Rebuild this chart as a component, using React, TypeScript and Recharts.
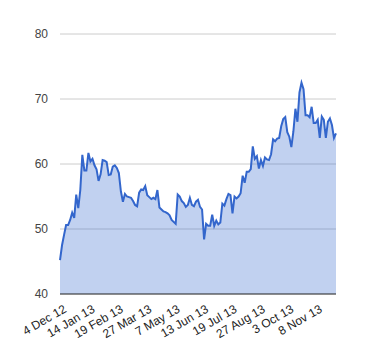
import React from 'react';
import { AreaChart, Area, XAxis, YAxis, CartesianGrid } from 'recharts';

const tickLabels = ['4 Dec 12', '14 Jan 13', '19 Feb 13', '27 Mar 13', '7 May 13', '13 Jun 13', '19 Jul 13', '27 Aug 13', '3 Oct 13', '8 Nov 13'];
const tickStep = 14;
const yTicks = [40, 50, 60, 70, 80];

const prices = [
  45.2, 47.5, 49.1, 50.6, 50.6, 51.4, 52.5, 51.7, 55.3, 53.2,
  56.0, 61.4, 59.0, 59.0, 61.7, 60.4, 60.8, 59.8, 59.2, 57.4,
  58.4, 60.6, 60.5, 60.3, 58.3, 58.4, 59.6, 59.8, 59.4, 58.6,
  55.8, 54.2, 55.4, 55.0, 54.9, 54.8, 54.3, 53.7, 53.5, 55.6,
  56.1, 56.0, 56.6, 55.2, 54.9, 54.6, 54.8, 54.6, 56.0, 53.3,
  53.0, 52.7, 52.6, 52.4, 52.1, 51.4, 51.1, 50.8, 55.3, 55.0,
  54.3, 54.0, 53.4, 53.7, 54.8, 53.7, 53.5, 54.2, 54.5, 53.4,
  53.0, 48.4, 50.8, 50.5, 50.5, 52.2, 50.5, 51.3, 50.7, 51.0,
  53.9, 53.6, 54.6, 55.4, 55.2, 52.4, 55.0, 54.7, 55.0, 55.5,
  58.2, 57.1, 58.8, 58.8, 59.2, 62.7, 60.8, 61.2, 59.3, 60.6,
  59.7, 61.0, 60.7, 60.6, 61.5, 63.8, 63.5, 63.9, 64.0, 65.8,
  66.9, 67.2, 64.9, 64.2, 62.6, 65.0, 68.5, 66.5, 71.0, 72.5,
  71.5, 67.5, 67.5, 67.2, 68.8, 66.3, 66.3, 66.8, 64.0, 67.3,
  66.8, 64.0, 66.5, 67.0, 66.0, 64.0, 64.7,
];

const data = prices.map((v, i) => ({ i, v }));
const xTicks = tickLabels.map((_, k) => k * tickStep);

const XTick = (props: any) => {
  const { x, y, payload } = props;
  const label = tickLabels[Math.round(payload.value / tickStep)] ?? '';
  const ax = x + 3;
  const ay = y + 2;
  return (
    <text
      x={ax}
      y={ay}
      dy="0.71em"
      textAnchor="end"
      fill="#222"
      fontSize={12}
      fontFamily="Arial, 'Liberation Sans', sans-serif"
      transform={`rotate(-30, ${ax}, ${ay})`}
    >
      {label}
    </text>
  );
};

export default function App() {
  return (
    <div style={{ position: 'absolute', left: 0, top: 0, width: 380, height: 360, background: '#fff' }}>
      <AreaChart width={380} height={360} data={data} margin={{ top: 34, right: 44, left: 0, bottom: 0 }}>
        <CartesianGrid vertical={false} stroke="#cccccc" />
        <XAxis
          dataKey="i"
          type="number"
          domain={[0, prices.length - 1]}
          ticks={xTicks}
          interval={0}
          height={66}
          tickLine={false}
          axisLine={{ stroke: '#333333', strokeWidth: 1 }}
          tick={<XTick />}
        />
        <YAxis
          domain={[40, 80]}
          ticks={yTicks}
          width={60}
          axisLine={false}
          tickLine={false}
          tickMargin={6}
          tick={{ fill: '#444444', fontSize: 12, fontFamily: "Arial, 'Liberation Sans', sans-serif" }}
        />
        <Area
          type="linear"
          dataKey="v"
          stroke="#3366cc"
          strokeWidth={2}
          fill="#3366cc"
          fillOpacity={0.3}
          isAnimationActive={false}
          dot={false}
          activeDot={false}
        />
      </AreaChart>
    </div>
  );
}
